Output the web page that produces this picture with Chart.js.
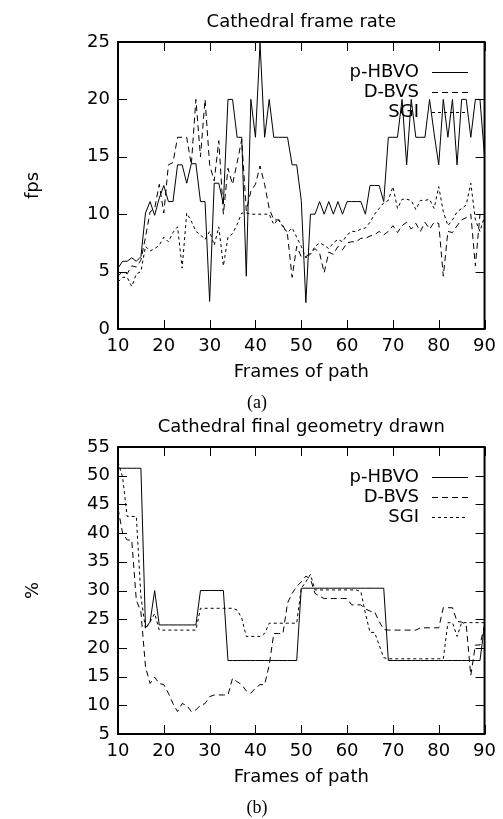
<!DOCTYPE html>
<html>
<head>
<meta charset="utf-8">
<title>Cathedral</title>
<script src="https://cdn.jsdelivr.net/npm/chart.js@4.4.1/dist/chart.umd.min.js"></script>
<style>
    html, body { margin: 0; padding: 0; background: #fff; }
    body { width: 503px; height: 819px; position: relative; overflow: hidden; }
    canvas { position: absolute; left: 0; }
    #rateChart { top: 9px; }
    #geomChart { top: 414px; }
</style>
</head>
<body>
<canvas id="rateChart" width="503" height="405"></canvas>
<canvas id="geomChart" width="503" height="405"></canvas>
<script>
// frames 10..90, one sample per frame
const frames = Array.from({ length: 81 }, (_, i) => 10 + i);
const seriesNames = ['p-HBVO', 'D-BVS', 'SGI'];

const xTicks = [10, 20, 30, 40, 50, 60, 70, 80, 90];
const fpsTicks = [0, 5, 10, 15, 20, 25];
const geomTicks = [5, 10, 15, 20, 25, 30, 35, 40, 45, 50, 55];

// (a) frame rate, fps
const fpsHbvo = [
    5.3, 5.9, 5.9, 6.2, 5.9, 6.3, 10.1, 11.1, 9.9, 11.4,
    12.5, 11.1, 11.1, 14.3, 14.3, 12.7, 14.4, 14.4, 11.1, 11.1,
    2.4, 12.7, 12.7, 10.9, 20, 20, 16.7, 16.7, 4.6, 20,
    16.7, 24.9, 16.7, 20, 16.7, 16.7, 16.7, 16.7, 14.3, 14.3,
    11.2, 2.3, 10, 10, 11.1, 10, 11.1, 10, 11.1, 10,
    11.1, 11.1, 11.1, 11.1, 10, 12.5, 12.5, 12.5, 11.1, 16.7,
    16.7, 16.7, 20, 14.3, 20, 16.7, 16.7, 16.7, 20, 17,
    14.3, 20, 16.7, 20, 14.3, 20, 20, 16.7, 20, 20,
    15
];
const fpsDbvs = [
    4.6, 5.0, 4.8, 5.5, 5.4, 6.0, 8.0, 10.2, 10.5, 12.6,
    10.1, 14.3, 14.5, 16.7, 16.7, 16.7, 14.3, 20, 15, 20,
    14.3, 12.9, 16.4, 10.0, 14.0, 12.6, 14.5, 16.5, 10.3, 12.0,
    12.6, 14.2, 12.6, 10.5, 9.5, 9.5, 9.0, 8.2, 4.5, 7.2,
    6.3, 6.3, 6.6, 7.0, 6.6, 4.9, 6.7, 6.5, 7.2, 6.9,
    7.5, 7.6, 7.6, 7.9, 7.9, 8.1, 8.2, 8.5, 8.2, 8.5,
    9.0, 8.4, 9.0, 9.3, 8.7, 9.2, 8.5, 9.3, 8.7, 9.3,
    9.2, 4.6, 8.5, 8.4, 9.0, 9.5, 9.7, 10.0, 5.5, 10.0,
    9.8
];
const fpsSgi = [
    4.1, 4.5, 4.5, 3.7, 4.8, 5.0, 7.2, 6.8, 7.0, 7.3,
    8.0, 7.6, 8.4, 8.9, 5.3, 10.1, 9.4, 8.5, 8.2, 7.8,
    8.5, 7.3, 8.9, 5.5, 8.0, 8.3, 9.1, 10.1, 10.1, 10.0,
    10.0, 10.0, 10.0, 10.0, 9.1, 9.6, 8.9, 8.4, 8.8, 8.0,
    7.2, 6.2, 6.5, 7.2, 7.5, 7.3, 7.0, 7.5, 7.8, 7.6,
    8.2, 8.5, 8.5, 8.7, 8.8, 9.3, 10.0, 10.5, 11.0, 11.2,
    12.4, 10.5, 11.3, 11.3, 11.2, 10.4, 11.2, 11.2, 11.3, 10.5,
    12.4, 10.2, 9.0, 9.5, 10.2, 10.5, 10.8, 12.7, 9.5, 8.5,
    9.8
];

// (b) final geometry drawn, %
const geomHbvo = [
    51.3, 51.3, 51.3, 51.3, 51.3, 51.3, 23.5, 24.5, 30.0, 24.0,
    24.0, 24.0, 24.0, 24.0, 24.0, 24.0, 24.0, 24.0, 30.0, 30.0,
    30.0, 30.0, 30.0, 30.0, 17.8, 17.8, 17.8, 17.8, 17.8, 17.8,
    17.8, 17.8, 17.8, 17.8, 17.8, 17.8, 17.8, 17.8, 17.8, 17.8,
    30.4, 30.4, 30.4, 30.4, 30.4, 30.4, 30.4, 30.4, 30.4, 30.4,
    30.4, 30.4, 30.4, 30.4, 30.4, 30.4, 30.4, 30.4, 30.4, 17.8,
    17.8, 17.8, 17.8, 17.8, 17.8, 17.8, 17.8, 17.8, 17.8, 17.8,
    17.8, 17.8, 17.8, 17.8, 17.8, 17.8, 17.8, 17.8, 17.8, 17.8,
    24.0
];
const geomDbvs = [
    44.3, 40.0, 38.8, 38.8, 28.3, 26.3, 16.7, 13.8, 14.9, 13.8,
    13.6, 12.1, 10.3, 8.9, 10.3, 10.0, 8.9, 9.2, 10.0, 10.3,
    11.5, 11.8, 11.8, 11.8, 11.8, 14.7, 14.1, 13.6, 12.5, 12.1,
    13.0, 13.6, 13.6, 17.0, 22.5, 22.5, 22.5, 27.8, 29.5, 30.7,
    31.5, 32.5, 32.0, 29.5, 29.0, 28.6, 28.6, 28.6, 28.6, 28.6,
    28.6, 27.5, 27.5, 27.5, 26.8, 26.4, 26.3, 24.6, 23.2, 23.1,
    23.1, 23.1, 23.1, 23.1, 23.1, 23.1, 23.5, 23.5, 23.5, 23.5,
    23.5, 27.0, 27.0, 27.0, 24.6, 24.5, 24.0, 15.2, 20.5, 20.5,
    24.0
];
const geomSgi = [
    52.4, 49.8, 42.9, 42.9, 42.9, 29.0, 23.3, 24.5, 26.0, 23.1,
    23.1, 23.1, 23.1, 23.1, 23.1, 23.1, 23.1, 23.1, 26.9, 26.9,
    26.9, 26.9, 26.9, 26.9, 26.9, 26.9, 26.6, 25.2, 22.0, 22.0,
    22.0, 22.0, 22.5, 24.3, 24.3, 24.3, 24.3, 24.3, 24.3, 24.3,
    30.4, 31.5, 32.8, 30.1, 30.1, 30.1, 30.1, 30.1, 30.1, 30.1,
    30.1, 30.1, 30.1, 29.8, 26.0, 22.7, 22.7, 20.5, 18.3, 18.1,
    18.1, 18.1, 18.1, 18.1, 18.1, 18.1, 18.1, 18.1, 18.1, 18.1,
    18.1, 18.1, 24.4, 24.4, 22.0, 24.4, 24.4, 24.4, 24.4, 24.4,
    24.4
];

const FONT = '"DejaVu Sans", sans-serif';
const seriesDash = [[], [6, 4], [3, 3]];
const TICK_LEN = 9;

Chart.defaults.color = '#000';
Chart.defaults.font.family = FONT;
Chart.defaults.font.size = 18;

// gnuplot look: boxed frame, inward ticks on all sides, key in the corner, titles
const gnuplotFrame = {
    id: 'gnuplotFrame',
    afterDraw(chart, args, opts) {
        const { ctx, chartArea: a, scales: { x, y } } = chart;
        ctx.save();
        ctx.strokeStyle = '#000';
        ctx.fillStyle = '#000';

        ctx.lineWidth = 1;
        ctx.beginPath();
        x.ticks.forEach(t => {
            const px = Math.round(x.getPixelForValue(t.value)) + 0.5;
            ctx.moveTo(px, a.bottom); ctx.lineTo(px, a.bottom - TICK_LEN);
            ctx.moveTo(px, a.top); ctx.lineTo(px, a.top + TICK_LEN);
        });
        y.ticks.forEach(t => {
            const py = Math.round(y.getPixelForValue(t.value)) + 0.5;
            ctx.moveTo(a.left, py); ctx.lineTo(a.left + TICK_LEN, py);
            ctx.moveTo(a.right, py); ctx.lineTo(a.right - TICK_LEN, py);
        });
        ctx.stroke();

        ctx.lineWidth = 2;
        ctx.strokeRect(a.left, a.top, a.right - a.left, a.bottom - a.top);

        // key
        ctx.font = '18px ' + FONT;
        ctx.textAlign = 'right';
        ctx.textBaseline = 'middle';
        chart.data.datasets.forEach((ds, i) => {
            const ly = Math.round(a.top + 29.5 + 20 * i) + 0.5;
            ctx.fillText(ds.label, 419, ly);
            ctx.lineWidth = 1;
            ctx.setLineDash(ds.borderDash || []);
            ctx.beginPath();
            ctx.moveTo(432, ly);
            ctx.lineTo(468, ly);
            ctx.stroke();
            ctx.setLineDash([]);
        });

        // title and caption
        ctx.textAlign = 'center';
        ctx.fillText(opts.title, (a.left + a.right) / 2, 13);
        ctx.font = '18px "Liberation Serif", serif';
        ctx.fillText(opts.caption, 257, 394);
        ctx.restore();
    }
};

function makeChart(id, title, caption, yTitle, yTicks, series) {
    return new Chart(document.getElementById(id), {
        type: 'line',
        data: {
            datasets: series.map((values, i) => ({
                label: seriesNames[i],
                data: values.map((v, j) => ({ x: frames[j], y: v })),
                borderColor: '#000',
                borderWidth: 1,
                borderDash: seriesDash[i],
                pointRadius: 0,
                tension: 0,
                fill: false
            }))
        },
        options: {
            responsive: false,
            animation: false,
            devicePixelRatio: 1,
            layout: { padding: { left: 0, right: 12, top: 33, bottom: 0 } },
            plugins: {
                legend: { display: false },
                tooltip: { enabled: false },
                gnuplotFrame: { title: title, caption: caption }
            },
            scales: {
                x: {
                    type: 'linear',
                    min: xTicks[0],
                    max: xTicks[xTicks.length - 1],
                    afterBuildTicks: s => { s.ticks = xTicks.map(v => ({ value: v })); },
                    afterFit: s => { s.height = 85; },
                    grid: { display: false, drawTicks: false },
                    border: { display: false },
                    ticks: { padding: 7, autoSkip: false, maxRotation: 0 },
                    title: { display: true, text: 'Frames of path', padding: { top: 0, bottom: 31.2 } }
                },
                y: {
                    type: 'linear',
                    min: yTicks[0],
                    max: yTicks[yTicks.length - 1],
                    afterBuildTicks: s => { s.ticks = yTicks.map(v => ({ value: v })); },
                    afterFit: s => { s.width = 118; },
                    grid: { display: false, drawTicks: false },
                    border: { display: false },
                    ticks: { padding: 8, autoSkip: false },
                    title: { display: true, text: yTitle, padding: { top: 22.2, bottom: 0 } }
                }
            }
        },
        plugins: [gnuplotFrame]
    });
}

makeChart('rateChart', 'Cathedral frame rate', '(a)', 'fps', fpsTicks, [fpsHbvo, fpsDbvs, fpsSgi]);
makeChart('geomChart', 'Cathedral final geometry drawn', '(b)', '%', geomTicks, [geomHbvo, geomDbvs, geomSgi]);
</script>
</body>
</html>
